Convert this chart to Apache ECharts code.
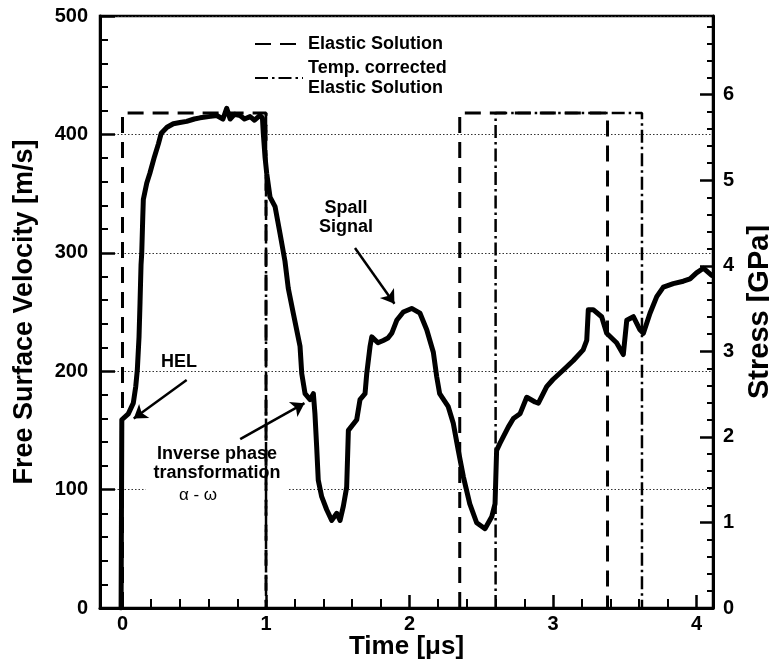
<!DOCTYPE html>
<html>
<head>
<meta charset="utf-8">
<script src="https://cdn.jsdelivr.net/npm/echarts@6/dist/echarts.min.js"></script>
<style>
  html, body { margin: 0; padding: 0; background: #fff; }
  #chart { width: 769px; height: 663px; }
</style>
</head>
<body>
<div id="chart"></div>
<script>
// Measured free surface velocity history
const timeUs = [
  -0.01, -0.005, 0.04, 0.075, 0.092, 0.103, 0.115, 0.122, 0.129, 0.134, 0.141, 0.145,
  0.169, 0.19, 0.222, 0.25, 0.27, 0.31, 0.354, 0.40, 0.447, 0.50, 0.54, 0.60, 0.656,
  0.70, 0.726, 0.75, 0.78, 0.819, 0.85, 0.889, 0.92, 0.958, 0.975, 0.981, 0.993, 1.005,
  1.028, 1.063, 1.098, 1.132, 1.155, 1.19, 1.237, 1.249, 1.272, 1.307, 1.33, 1.341,
  1.353, 1.364, 1.388, 1.423, 1.458, 1.493, 1.516, 1.539, 1.562, 1.574, 1.632, 1.655,
  1.69, 1.702, 1.725, 1.737, 1.78, 1.817, 1.85, 1.876, 1.911, 1.957, 2.015, 2.073,
  2.12, 2.166, 2.19, 2.21, 2.27, 2.305, 2.34, 2.375, 2.42, 2.468, 2.526, 2.573, 2.596,
  2.607, 2.63, 2.689, 2.724, 2.77, 2.817, 2.875, 2.898, 2.956, 3.0, 3.072, 3.142, 3.21,
  3.235, 3.246, 3.28, 3.339, 3.374, 3.443, 3.49, 3.514, 3.56, 3.606, 3.63, 3.676, 3.723,
  3.769, 3.838, 3.908, 3.955, 4.0, 4.048, 4.106
];
const velocityMs = [
  0, 159, 164, 173, 187, 201, 229, 258, 290, 300, 330, 345,
  359, 367, 381, 392, 401, 406, 409, 410, 411, 413, 414, 415, 416,
  413, 422, 413, 417, 416, 413, 415, 412, 416, 414, 401, 381, 367,
  347, 339, 316, 293, 270, 249, 221, 198, 181, 176, 181, 164,
  136, 108, 94, 83, 74, 80, 74, 86, 102, 150, 159, 176,
  181, 198, 221, 229, 224, 226, 228, 232, 243, 250, 253, 249,
  235, 216, 195, 181, 170, 156, 133, 111, 88, 72, 67, 77, 88,
  133, 139, 153, 160, 164, 178, 174, 173, 187, 193, 201, 209, 218,
  226, 252, 252, 246, 232, 224, 214, 243, 246, 235, 232, 249, 263,
  271, 274, 276, 278, 283, 287, 281
];

// Elastic solution pulses (null separates the two pulses)
const elasticT = [0, 0, 1, 1, null, 2.35, 2.35, 3.38, 3.38];
const elasticV = [0, 418, 418, 0, null, 0, 418, 418, 0];

// Temperature corrected elastic solution: release of the first pulse, then the second pulse
const tempT = [1, 1, null, 2.6, 2.6, 3.62, 3.62];
const tempV = [418, 0, null, 0, 418, 418, 0];

// Axis ticks and labels
const xMajor = [0, 1, 2, 3, 4];
const xMinor = [0.2, 0.4, 0.6, 0.8, 1.2, 1.4, 1.6, 1.8, 2.2, 2.4, 2.6, 2.8, 3.2, 3.4, 3.6, 3.8];
const stressMajor = [0, 1, 2, 3, 4, 5, 6];
const stressMinor = [0.2, 0.4, 0.6, 0.8, 1.2, 1.4, 1.6, 1.8, 2.2, 2.4, 2.6, 2.8,
  3.2, 3.4, 3.6, 3.8, 4.2, 4.4, 4.6, 4.8, 5.2, 5.4, 5.6, 5.8, 6.2, 6.4, 6.6, 6.8];

// Annotation texts and arrows: [t, v]
const annotations = [
  { key: 'hel', text: 'HEL', at: [0.394, 208] },
  { key: 'inv', text: 'Inverse phase\ntransformation', at: [0.659, 122] },
  { key: 'aw', text: 'α - ω', at: [0.526, 95.5] },
  { key: 'spall', text: 'Spall\nSignal', at: [1.557, 330] }
];
const arrows = [
  { from: [0.447, 192.6], to: [0.078, 160] },
  { from: [0.82, 142.6], to: [1.268, 173] },
  { from: [1.62, 304], to: [1.895, 257] }
];

const FONT = '"Liberation Sans", Arial, Helvetica, sans-serif';
const xMin = -0.157, xMax = 4.115;
const vMax = 500, sMax = 6.92;

function pairs(xs, ys) {
  return xs.map((x, i) => (x === null ? ['-', '-'] : [x, ys[i]]));
}

const chart = echarts.init(document.getElementById('chart'), null, { renderer: 'canvas' });

const tickLabel = { fontFamily: FONT, fontWeight: 'bold', fontSize: 20, color: '#000' };
const titleStyle = { fontFamily: FONT, fontWeight: 'bold', fontSize: 26, color: '#000' };

const option = {
  animation: false,
  backgroundColor: '#fff',
  grid: {
    left: 100, right: 56, top: 16, bottom: 55,
    containLabel: false, outerBoundsMode: 'none',
    show: true, borderColor: '#000', borderWidth: 2.5, backgroundColor: 'transparent'
  },
  legend: {
    data: ['Elastic Solution', 'Temp. corrected\nElastic Solution'],
    orient: 'vertical',
    left: 254, top: 34, padding: 0,
    itemWidth: 48, itemHeight: 14, itemGap: 4,
    itemStyle: { color: 'rgba(0,0,0,0)', borderWidth: 0 },
    textStyle: { fontFamily: FONT, fontWeight: 'bold', fontSize: 18, lineHeight: 20, color: '#000' },
    selectedMode: false
  },
  xAxis: [
    {
      type: 'value', min: xMin, max: xMax, position: 'bottom',
      name: 'Time [μs]', nameLocation: 'middle', nameGap: 26, nameMoveOverlap: false,
      nameTextStyle: titleStyle,
      axisLine: { show: true, onZero: false, lineStyle: { color: '#000', width: 3 } },
      axisTick: { show: true, inside: true, length: 13, lineStyle: { color: '#000', width: 2.5 }, customValues: xMajor },
      axisLabel: { ...tickLabel, margin: 6, customValues: xMajor },
      splitLine: { show: false }
    },
    {
      type: 'value', min: xMin, max: xMax, position: 'bottom',
      axisLine: { show: false, onZero: false },
      axisTick: { show: true, inside: true, length: 9, lineStyle: { color: '#000', width: 2 }, customValues: xMinor },
      axisLabel: { show: false },
      splitLine: { show: false }
    }
  ],
  yAxis: [
    {
      type: 'value', min: 0, max: vMax, interval: 100, position: 'left',
      name: 'Free Surface Velocity [m/s]', nameLocation: 'middle', nameRotate: 90, nameGap: 62,
      nameTextStyle: { ...titleStyle, fontSize: 27 },
      axisLine: { show: true, onZero: false, lineStyle: { color: '#000', width: 3 } },
      axisTick: { show: true, inside: true, length: 15, lineStyle: { color: '#000', width: 2.5 } },
      minorTick: { show: true, splitNumber: 5, length: 8, lineStyle: { color: '#000', width: 2 } },
      axisLabel: { ...tickLabel, margin: 12 },
      splitLine: { show: true, lineStyle: { color: '#333', width: 1.2, type: [1.5, 2] } }
    },
    {
      type: 'value', min: 0, max: sMax, position: 'right',
      name: 'Stress [GPa]', nameLocation: 'middle', nameRotate: 90, nameGap: 31,
      nameTextStyle: { ...titleStyle, fontSize: 29 },
      axisLine: { show: true, onZero: false, lineStyle: { color: '#000', width: 3 } },
      axisTick: { show: true, inside: true, length: 13, lineStyle: { color: '#000', width: 2.5 }, customValues: stressMajor },
      axisLabel: { ...tickLabel, margin: 10, customValues: stressMajor },
      splitLine: { show: false }
    },
    {
      type: 'value', min: 0, max: sMax, position: 'right',
      axisLine: { show: false, onZero: false },
      axisTick: { show: true, inside: true, length: 6, lineStyle: { color: '#000', width: 2 }, customValues: stressMinor },
      axisLabel: { show: false },
      splitLine: { show: false }
    }
  ],
  series: [
    {
      // Annotation texts, kept below the curves
      name: 'notes',
      type: 'scatter', xAxisIndex: 0, yAxisIndex: 0,
      symbol: 'rect', symbolSize: 1, silent: true,
      itemStyle: { color: 'rgba(0,0,0,0)', opacity: 1 },
      z: 1,
      data: annotations.map(a => ({
        value: a.at,
        label: {
          show: true, position: 'inside', formatter: a.text,
          fontFamily: FONT,
          fontWeight: a.key === 'aw' ? 'normal' : 'bold',
          fontSize: a.key === 'aw' ? 17 : 18,
          lineHeight: 19,
          color: '#000',
          opacity: 1,
          align: 'center',
          backgroundColor: a.key === 'inv' ? '#fff' : 'transparent',
          padding: a.key === 'inv' ? [2, 8, 14, 8] : 0
        }
      }))
    },
    {
      name: 'Elastic Solution',
      type: 'line', xAxisIndex: 0, yAxisIndex: 0,
      data: pairs(elasticT, elasticV),
      showSymbol: false, symbol: 'none', connectNulls: false,
      lineStyle: { color: '#000', width: 3, type: [16, 9] },
      itemStyle: { color: '#000' },
      z: 3
    },
    {
      name: 'Temp. corrected\nElastic Solution',
      type: 'line', xAxisIndex: 0, yAxisIndex: 0,
      data: pairs(tempT, tempV),
      showSymbol: false, symbol: 'none', connectNulls: false,
      lineStyle: { color: '#000', width: 2.5, type: [13, 4, 2.5, 4] },
      itemStyle: { color: '#000' },
      z: 3
    },
    {
      name: 'Free surface velocity',
      type: 'line', xAxisIndex: 0, yAxisIndex: 0,
      data: pairs(timeUs, velocityMs),
      showSymbol: false, symbol: 'none',
      lineStyle: { color: '#000', width: 5, join: 'round', cap: 'round' },
      z: 4,
      markLine: {
        silent: true,
        symbol: ['none', 'arrow'],
        symbolSize: 13,
        label: { show: false },
        lineStyle: { color: '#000', width: 2.5, type: 'solid' },
        itemStyle: { color: '#000' },
        data: arrows.map(a => [{ coord: a.from }, { coord: a.to }])
      }
    }
  ]
};

chart.setOption(option);
</script>
</body>
</html>
